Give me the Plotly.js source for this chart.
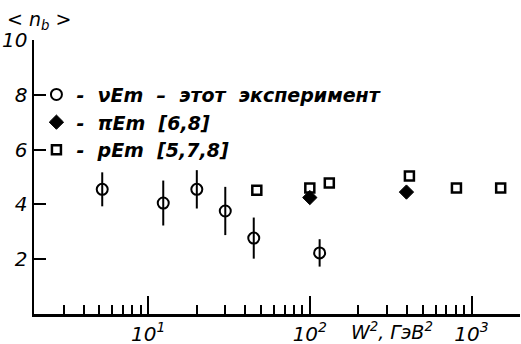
<!DOCTYPE html>
<html><head><meta charset="utf-8">
<script src="https://cdn.plot.ly/plotly-3.0.1.min.js"></script>
<style>body{margin:0;background:#fff}</style></head>
<body><div id="chart" style="width:521px;height:344px"></div>
<script>
const nuW = [5.2, 12.4, 20, 30, 45, 115];
const nuN = [4.55, 4.05, 4.55, 3.76, 2.77, 2.23];
const nuErr = [0.62, 0.82, 0.7, 0.88, 0.75, 0.5];
const piW = [100, 396];
const piN = [4.25, 4.45];
const pW = [47, 100, 132, 413, 807, 1515];
const pN = [4.52, 4.6, 4.78, 5.04, 4.6, 4.6];
const xMajor = [10, 100, 1000];
const xMajorText = ['10<sup>1</sup>', '10<sup>2</sup>', '10<sup>3</sup>'];
const xMinor = [3,4,5,6,7,8,9,20,30,40,50,60,70,80,90,200,300,400,500,600,700,800,900];
const yTicks = [2, 4, 6, 8, 10];
const names = ['-  νEm  –  этот  эксперимент', '-  πEm  [6,8]', '-  pEm  [5,7,8]'];

const FF = '"DejaVu Sans", sans-serif';
const font = (s, w) => ({family: FF, size: s, color: '#000', style: 'italic', weight: w || 'normal'});

const traces = [
  {x: nuW, y: nuN, name: names[0], mode: 'markers', type: 'scatter',
   marker: {symbol: 'circle-open', size: 11, color: '#000', line: {width: 2, color: '#000'}},
   error_y: {type: 'data', array: nuErr, visible: true, width: 0, thickness: 2, color: '#000'}},
  {x: piW, y: piN, name: names[1], mode: 'markers', type: 'scatter',
   marker: {symbol: 'diamond', size: 11, color: '#000', line: {width: 1, color: '#000'}}},
  {x: pW, y: pN, name: names[2], mode: 'markers', type: 'scatter',
   marker: {symbol: 'square-open', size: 9, color: '#000', line: {width: 2.5, color: '#000'}}}
];

const layout = {
  width: 521, height: 344,
  margin: {l: 34, r: 1, t: 40, b: 30},
  paper_bgcolor: '#fff', plot_bgcolor: '#fff',
  showlegend: true,
  legend: {x: 0.005, y: 0.87, xanchor: 'left', yanchor: 'top', font: font(19, 'bold'),
           bgcolor: 'rgba(0,0,0,0)', itemwidth: 30, tracegroupgap: 0},
  xaxis: {type: 'log', range: [0.294, 3.3], showgrid: false, zeroline: false,
          showline: true, linewidth: 2.5, linecolor: '#000',
          tickmode: 'array', tickvals: xMajor, ticktext: xMajorText,
          ticks: 'inside', ticklen: 18, tickwidth: 2, tickcolor: '#000',
          tickfont: font(20),
          minor: {tickmode: 'array', tickvals: xMinor, ticks: 'inside', ticklen: 9, tickwidth: 2, tickcolor: '#000', showgrid: false}},
  yaxis: {range: [0, 10], showgrid: false, zeroline: false,
          showline: true, linewidth: 2.5, linecolor: '#000',
          tickmode: 'array', tickvals: yTicks,
          ticks: 'inside', ticklen: 12, tickwidth: 2, tickcolor: '#000',
          tickfont: font(20)},
  annotations: [
    {xref: 'paper', yref: 'paper', x: -0.06, y: 1.02, xanchor: 'left', yanchor: 'bottom',
     text: '< n<sub>b</sub> >', showarrow: false, font: font(19)},
    {xref: 'paper', yref: 'paper', x: 0.737, y: -0.01, xanchor: 'center', yanchor: 'top',
     text: 'W<sup>2</sup>, ГэВ<sup>2</sup>', showarrow: false, font: font(19)}
  ]
};

Plotly.newPlot('chart', traces, layout, {displayModeBar: false, staticPlot: true});
</script></body></html>
